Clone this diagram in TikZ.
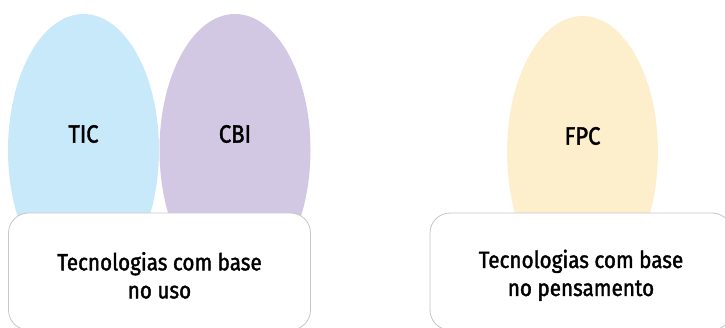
\documentclass[tikz,border=0pt]{standalone}
\usepackage{fontspec}
\setmainfont{Fira Sans}[FakeStretch=0.88,FakeBold=1.6]
\usetikzlibrary{shapes.geometric}
\definecolor{ticblue}{HTML}{C7E9F9}
\definecolor{cbililac}{HTML}{D3C8E3}
\definecolor{fpccream}{HTML}{FDEFCB}
\definecolor{boxgray}{HTML}{C6C6C6}
\newcommand{\toplift}{\rule{0pt}{26pt}}
\begin{document}
\begin{tikzpicture}[x=1pt,y=-1pt,
  blob/.style={ellipse,draw=none,minimum width=151pt,minimum height=272pt,inner sep=0pt},
  basebox/.style={draw=boxgray,fill=white,rounded corners=20pt,minimum width=302pt,minimum height=117pt,
    align=center,font=\fontsize{23.5}{28}\selectfont,line width=0.8pt},
  tag/.style={font=\fontsize{25}{30}\selectfont}]
\useasboundingbox (0,0) rectangle (725,328);
% Ovals
\node[blob,fill=ticblue] (tic) at (83.5,150) {};
\node[blob,fill=cbililac] (cbi) at (235,150) {};
\node[blob,fill=fpccream] (fpc) at (582.5,152) {};
\node[tag] (tictxt) at ([yshift=16pt]tic.center) {TIC};
\node[tag] (cbitxt) at ([yshift=16pt]cbi.center) {CBI};
\node[tag] (fpctxt) at ([yshift=16pt]fpc.center) {FPC};

% Boxes
\node[basebox] (uso) at (159.5,271.5) {\toplift Tecnologias com base\\no uso};
\node[basebox] (pens) at (581,271.5) {\toplift Tecnologias com base\\no pensamento};
\end{tikzpicture}
\end{document}
